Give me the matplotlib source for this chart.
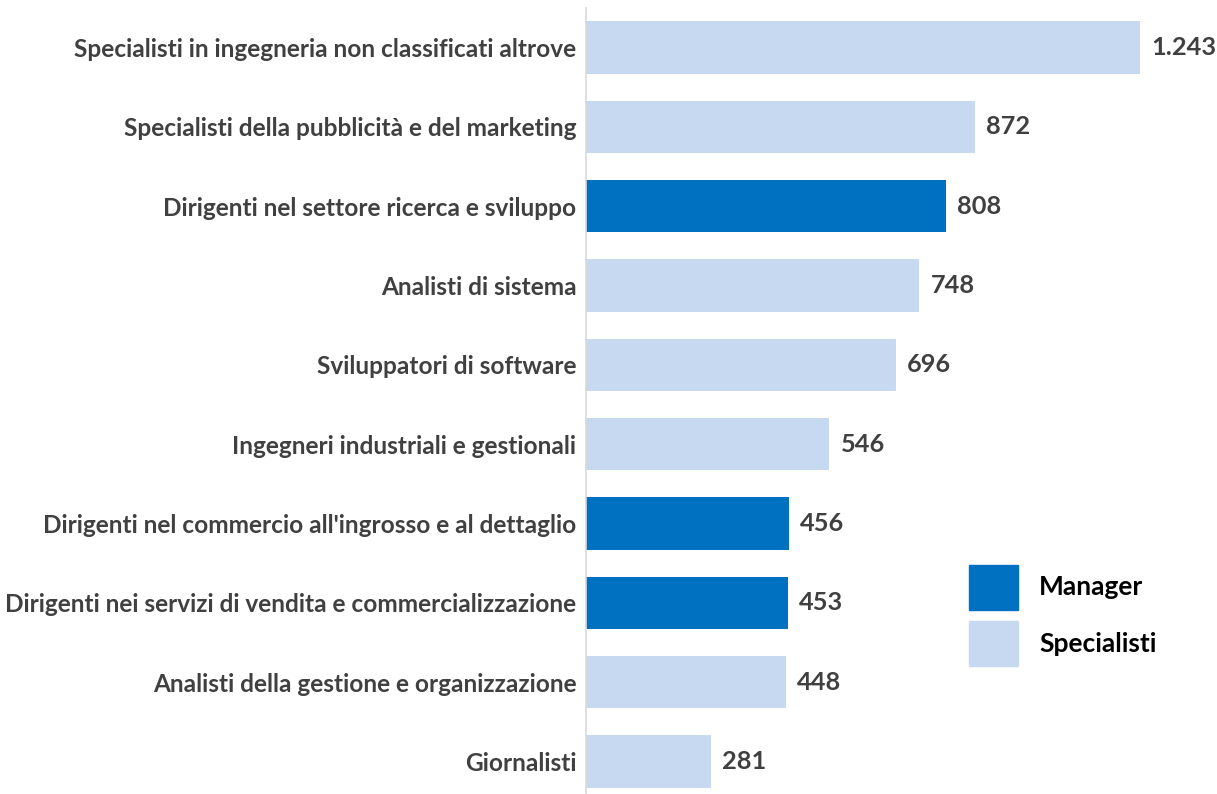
import matplotlib.pyplot as plt
from matplotlib.patches import Patch

professioni = [
    'Specialisti in ingegneria non classificati altrove',
    'Specialisti della pubblicità e del marketing',
    'Dirigenti nel settore ricerca e sviluppo',
    'Analisti di sistema',
    'Sviluppatori di software',
    'Ingegneri industriali e gestionali',
    "Dirigenti nel commercio all'ingrosso e al dettaglio",
    'Dirigenti nei servizi di vendita e commercializzazione',
    'Analisti della gestione e organizzazione',
    'Giornalisti',
]
valori = [1243, 872, 808, 748, 696, 546, 456, 453, 448, 281]
gruppo = ['Specialisti', 'Specialisti', 'Manager', 'Specialisti', 'Specialisti',
          'Specialisti', 'Manager', 'Manager', 'Specialisti', 'Specialisti']
colori = {'Manager': '#0070C0', 'Specialisti': '#C6D9F0'}

plt.rcParams['font.family'] = ['Lato', 'DejaVu Sans']

fig = plt.figure(figsize=(12.17, 7.94), dpi=100)
ax = fig.add_axes([586 / 1217, 0, 1 - 586 / 1217, 1 - 8 / 794])

y = list(range(len(professioni)))
ax.barh(y, valori, height=0.66, color=[colori[g] for g in gruppo])
ax.set_ylim(9.41, -0.5)
ax.set_xlim(0, 1416)

ax.set_yticks(y)
ax.set_yticklabels(professioni, fontsize=17.6, fontweight='bold', color='#404040')
ax.tick_params(axis='y', length=0, pad=7)
ax.set_xticks([])
for s in ['top', 'right', 'bottom']:
    ax.spines[s].set_visible(False)
ax.spines['left'].set_color('#D9D9D9')
ax.spines['left'].set_linewidth(1.2)

# etichette dei valori
for i, v in enumerate(valori):
    testo = f'{v:,}'.replace(',', '.')
    ax.text(v + 25, i, testo, va='center', ha='left', fontsize=18.3,
            fontweight='bold', color='#404040')

handles = [Patch(color=colori['Manager'], label='Manager'),
           Patch(color=colori['Specialisti'], label='Specialisti')]
leg = fig.legend(handles=handles, loc='upper left', bbox_to_anchor=(945 / 1217, 1 - 541 / 794),
                 frameon=False, prop={'size': 19, 'weight': 'bold'},
                 handlelength=1.86, handleheight=2.245, handletextpad=0.8, labelspacing=0.42)

fig.savefig('out.png', dpi=100)
